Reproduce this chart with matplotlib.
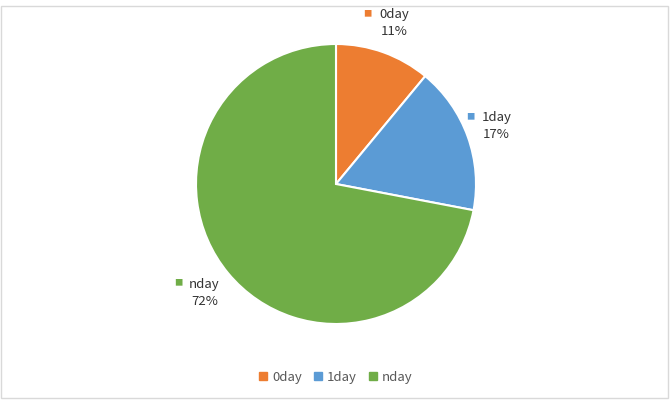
import matplotlib.pyplot as plt
import matplotlib.patches as mpatches
import numpy as np

labels = ["0day", "1day", "nday"]
values = [11, 17, 72]
colors = ["#ED7D31", "#5B9BD5", "#70AD47"]

plt.rcParams['font.family'] = ['Noto Sans CJK KR', 'DejaVu Sans']

fig = plt.figure(figsize=(6.7, 4.04), dpi=100)
fig.patch.set_facecolor("white")

# outer chart border
fig.patches.append(mpatches.Rectangle((1 / 670, 6 / 404), 667 / 670, 392 / 404,
                                      transform=fig.transFigure, fill=False,
                                      edgecolor="#d9d9d9", linewidth=1))

ax = fig.add_axes([196 / 670, 80 / 404, 280 / 670, 280 / 404])
wedges, _ = ax.pie(values, colors=colors, startangle=90, counterclock=False,
                   wedgeprops=dict(edgecolor="white", linewidth=1.5))
ax.set_xlim(-1, 1)
ax.set_ylim(-1, 1)
ax.set_aspect("equal")

# data labels outside the slices
for w, lab, v, c in zip(wedges, labels, values, colors):
    ang = np.deg2rad((w.theta1 + w.theta2) / 2)
    x, y = 1.22 * np.cos(ang), 1.22 * np.sin(ang)
    ax.text(x, y, f"{lab}\n{v}%", ha="center", va="center", fontsize=9.5,
            color="#333333", linespacing=1.4)
    ax.annotate("■", xy=(x, y), xytext=(-19, 7), textcoords="offset points",
                ha="center", va="center", fontsize=6, color=c,
                annotation_clip=False)

handles = [mpatches.Patch(color=c, label=l) for c, l in zip(colors, labels)]
fig.legend(handles=handles, loc="center", bbox_to_anchor=(336 / 670, 1 - 377 / 404),
           ncol=3, frameon=False, fontsize=9.5, handlelength=0.6, handleheight=0.6,
           handletextpad=0.4, columnspacing=0.9, labelcolor="#595959")

fig.savefig("out.png", dpi=100)
